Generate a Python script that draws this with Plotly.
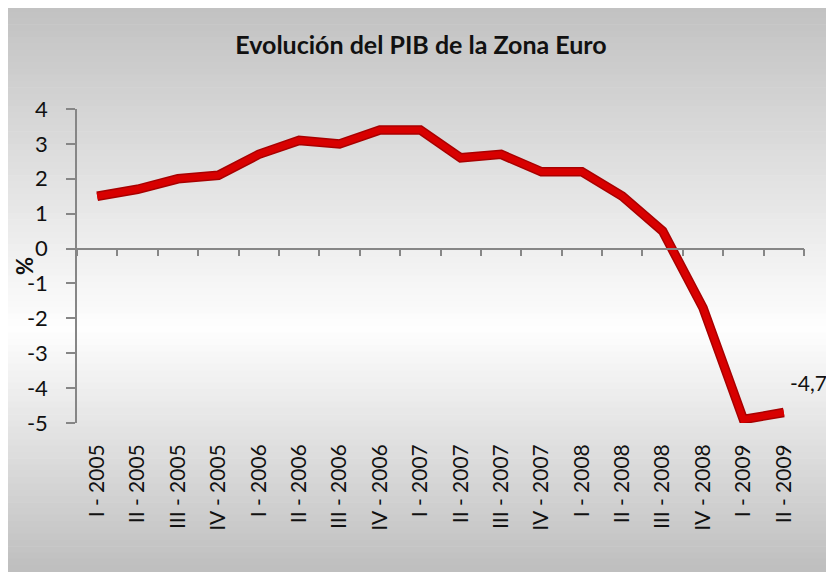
import plotly.graph_objects as go

categories = ["I - 2005", "II - 2005", "III - 2005", "IV - 2005",
              "I - 2006", "II - 2006", "III - 2006", "IV - 2006",
              "I - 2007", "II - 2007", "III - 2007", "IV - 2007",
              "I - 2008", "II - 2008", "III - 2008", "IV - 2008",
              "I - 2009", "II - 2009"]
values = [1.5, 1.7, 2.0, 2.1, 2.7, 3.1, 3.0, 3.4, 3.4, 2.6, 2.7, 2.2,
          2.2, 1.5, 0.5, -1.7, -4.9, -4.7]
y_ticks = [-5, -4, -3, -2, -1, 0, 1, 2, 3, 4]
y_tick_labels = ["-5", "-4", "-3", "-2", "-1", "0", "1", "2", "3", "4"]
y_range = [-5, 4]
title_text = "Evolución del PIB de la Zona Euro"
y_title = "%"

FONT = "Lato, Open Sans, sans-serif"
OFF = 8  # page body margin
W, H = 834 - OFF, 572 - OFF
ML, MT = 77 - OFF, 109 - OFF
MR, MB = 834 - 804, 572 - 423
PW, PH = W - ML - MR, H - MT - MB

fig = go.Figure()

fig.add_trace(go.Scatter(
    x=categories, y=values, mode="lines",
    line=dict(color="#a80000", width=9.5),
    hoverinfo="skip", showlegend=False, cliponaxis=False))
fig.add_trace(go.Scatter(
    x=categories, y=values, mode="lines",
    line=dict(color="#d80000", width=6.5),
    showlegend=False, cliponaxis=False))
# invisible trace so the zero-line category axis is drawn
fig.add_trace(go.Scatter(
    x=categories, y=values, xaxis="x2", mode="lines",
    line=dict(width=0), opacity=0, hoverinfo="skip", showlegend=False))

# gradient background (bands), in paper coordinates
def px_to_paper_y(py):  # py = page pixel
    return (H - MB - (py - OFF)) / PH

x0p = (6 - OFF - ML) / PW
x1p = (830 - OFF - ML) / PW
top_px, bot_px, mid_px = 6, 572, 330
N = 90
shapes = []
for i in range(N):
    ya = top_px + (bot_px - top_px) * i / N
    yb = top_px + (bot_px - top_px) * (i + 1) / N
    yc = (ya + yb) / 2
    if yc <= mid_px:
        t = (yc - top_px) / (mid_px - top_px)
        c = 193 + (254 - 193) * t
    else:
        t = (yc - mid_px) / (bot_px - mid_px)
        c = 254 - (254 - 190) * t
    c = int(round(c))
    shapes.append(dict(
        type="rect", xref="paper", yref="paper", layer="below",
        x0=x0p, x1=x1p,
        y0=px_to_paper_y(yb), y1=px_to_paper_y(ya) + 0.002,
        line=dict(width=0), fillcolor=f"rgb({c},{c},{c})"))

zero_pos = (0 - y_range[0]) / (y_range[1] - y_range[0])

fig.update_layout(
    width=W, height=H,
    margin=dict(l=ML, r=MR, t=MT, b=MB, autoexpand=False),
    paper_bgcolor="white", plot_bgcolor="rgba(0,0,0,0)",
    shapes=shapes,
    title=dict(text=f"<b>{title_text}</b>", x=0.5, xref="container",
               xanchor="center", y=1 - (45 - OFF) / H, yanchor="middle",
               font=dict(family=FONT, size=25, color="#111")),
    font=dict(family=FONT, color="#111"),
    xaxis=dict(type="category", categoryorder="array", categoryarray=categories,
               range=[-0.5, len(categories) - 0.5], automargin=False,
               showline=False, showgrid=False, ticks="", tickangle=-90,
               ticklabelstandoff=16,
               tickfont=dict(family=FONT, size=21, color="#111")),
    xaxis2=dict(type="category", categoryorder="array", categoryarray=categories,
                range=[-0.5, len(categories) - 0.5], automargin=False,
                overlaying="x", anchor="free", position=zero_pos,
                showline=True, linecolor="#868686", linewidth=1.5,
                ticks="outside", tickson="boundaries", ticklen=7,
                tickcolor="#868686", tickwidth=1.5,
                showticklabels=False, showgrid=False),
    yaxis=dict(range=y_range, tickvals=y_ticks, ticktext=y_tick_labels,
               showgrid=False, zeroline=False, automargin=False,
               showline=True, linecolor="#868686", linewidth=1.5,
               ticks="outside", ticklen=9, tickcolor="#868686", tickwidth=1.5,
               ticklabelstandoff=14,
               tickfont=dict(family=FONT, size=22, color="#111")),
    annotations=[
        dict(text=f"<b>{y_title}</b>", xref="paper", yref="paper",
             x=0, y=0.5, xshift=-53, showarrow=False, textangle=-90,
             xanchor="center", yanchor="middle",
             font=dict(family=FONT, size=22, color="#111")),
        dict(text=f"{values[-1]:.1f}".replace(".", ","), xref="x", yref="y",
             x=categories[-1], y=values[-1], xanchor="left", yanchor="middle",
             xshift=4, yshift=30, showarrow=False,
             font=dict(family=FONT, size=21, color="#111")),
    ],
)

fig.write_html("out.html")
